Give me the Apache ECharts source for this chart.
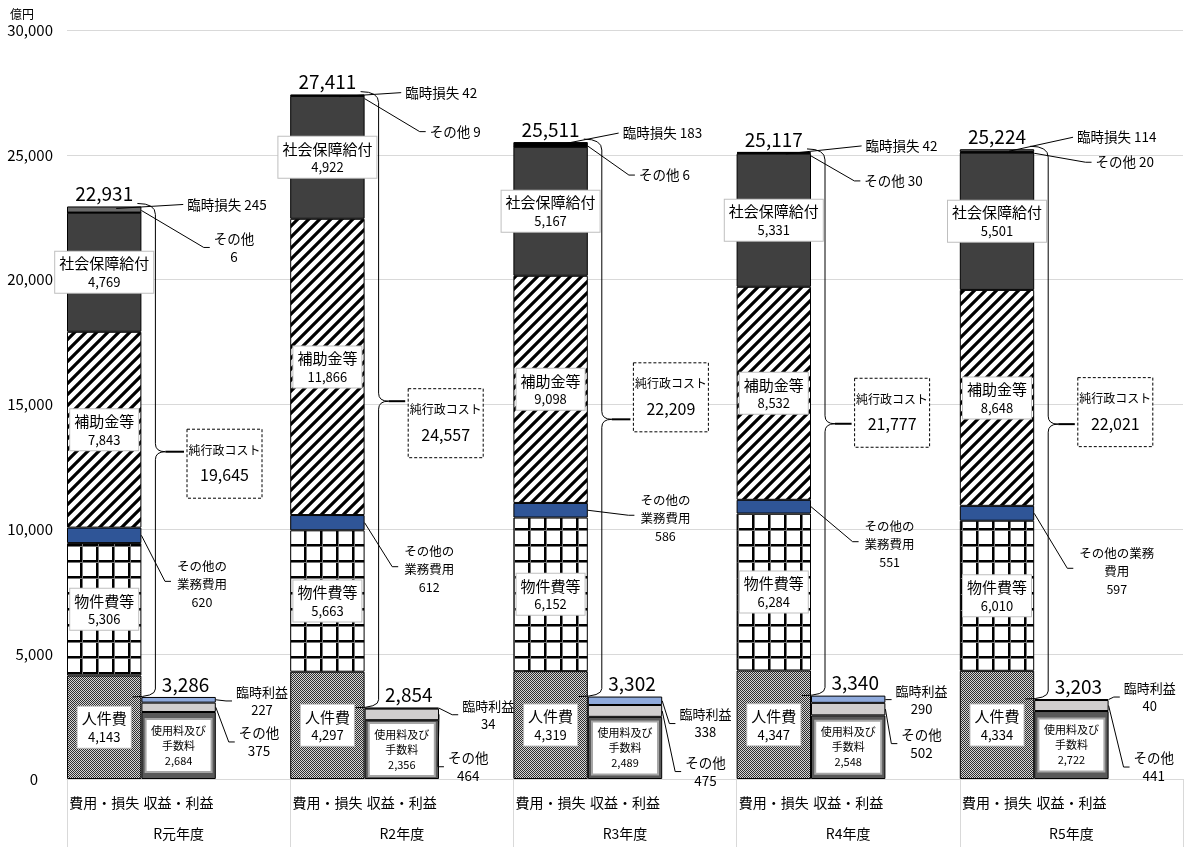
<!DOCTYPE html>
<html>
<head>
<meta charset="utf-8">
<script src="https://cdn.jsdelivr.net/npm/echarts@6/dist/echarts.min.js"></script>
<style>
html, body { margin: 0; padding: 0; background: #fff; }
#chartmain { width: 1190px; height: 847px; }
</style>
</head>
<body>
<div id="chartmain"></div>
<script>
// データ（億円）
var years = ['R元年度', 'R2年度', 'R3年度', 'R4年度', 'R5年度'];
var sides = ['費用・損失', '収益・利益', ''];
var personnel = [4143, 4297, 4319, 4347, 4334];      // 人件費
var goods = [5306, 5663, 6152, 6284, 6010];          // 物件費等
var otherBiz = [620, 612, 586, 551, 597];            // その他の業務費用
var subsidies = [7843, 11866, 9098, 8532, 8648];     // 補助金等
var social = [4769, 4922, 5167, 5331, 5501];         // 社会保障給付
var costOther = [6, 9, 6, 30, 20];                   // その他
var extraLoss = [245, 42, 183, 42, 114];             // 臨時損失
var fees = [2684, 2356, 2489, 2548, 2722];           // 使用料及び手数料
var revOther = [375, 464, 475, 502, 441];            // その他
var extraGain = [227, 34, 338, 290, 40];             // 臨時利益
var costTotal = [22931, 27411, 25511, 25117, 25224];
var revTotal = [3286, 2854, 3302, 3340, 3203];
var netCost = [19645, 24557, 22209, 21777, 22021];

// 吹き出しの置き場所（グループ左端からのx, 基準点からのy）
var lossPos = [[160, -2], [151, -2], [149, -9], [165, -6], [157, -12]];
var costOtherPos = [[167, 41], [165, 37], [151, 33], [157, 29], [165, 13]];
var otherBizPos = [[135, 49], [139, 47], [152, 8], [153, 38], [157, 58]];
var gainPos = [[195, 4], [198, 7], [192, 27], [185, 4], [190, -2]];
var revOtherPos = [[192, 45], [178, 59], [192, 75], [185, 48], [194, 68]];
var netBoxPos = [[120, 12], [118, 22], [120, -22], [118, -11], [118, -12]];
var costOtherFmt = ['その他\n{v}', 'その他 {v}', 'その他 {v}', 'その他 {v}', 'その他 {v}'];
var otherBizFmt = ['その他の\n業務費用\n{v}', 'その他の\n業務費用\n{v}', 'その他の\n業務費用\n{v}', 'その他の\n業務費用\n{v}', 'その他の業務\n費用\n{v}'];
var lossColors = ['#6b6b6b', '#000', '#000', '#000', '#595959'];

var FONT = '"Noto Sans CJK JP", sans-serif';

function fmt(v) {
    return String(v).replace(/\B(?=(\d{3})+(?!\d))/g, ',');
}
function spread(arr, slot) {
    var out = [];
    arr.forEach(function (v) {
        for (var s = 0; s < 3; s++) out.push(s === slot ? v : '-');
    });
    return out;
}
function makeCanvas(w, h, draw) {
    var c = document.createElement('canvas');
    c.width = w; c.height = h;
    draw(c.getContext('2d'), w, h);
    return c;
}

var dotPattern = makeCanvas(2, 2, function (ctx) {
    ctx.fillStyle = '#d4d4d4'; ctx.fillRect(0, 0, 2, 2);
    ctx.fillStyle = '#2e2e2e'; ctx.fillRect(0, 0, 1, 1); ctx.fillRect(1, 1, 1, 1);
});
var gridPattern = makeCanvas(16, 16, function (ctx) {
    ctx.fillStyle = '#fff'; ctx.fillRect(0, 0, 16, 16);
    ctx.fillStyle = '#000'; ctx.fillRect(0, 0, 16, 2); ctx.fillRect(0, 0, 2, 16);
    ctx.fillStyle = '#777'; ctx.fillRect(0, 2, 16, 1); ctx.fillRect(2, 0, 1, 16);
});
var stripePattern = makeCanvas(11, 11, function (ctx, w) {
    ctx.fillStyle = '#fff'; ctx.fillRect(0, 0, w, w);
    ctx.strokeStyle = '#000'; ctx.lineWidth = 3.2;
    ctx.beginPath();
    ctx.moveTo(-1, w + 1); ctx.lineTo(w + 1, -1);
    ctx.moveTo(-2, 2); ctx.lineTo(2, -2);
    ctx.moveTo(w - 2, w + 2); ctx.lineTo(w + 2, w - 2);
    ctx.stroke();
});

function innerLabel(name, values) {
    return {
        show: true,
        position: 'inside',
        backgroundColor: '#fff',
        borderColor: '#bfbfbf',
        borderWidth: 1,
        padding: [2, 4],
        color: '#000',
        fontFamily: FONT,
        formatter: function (p) {
            return '{n|' + name + '}\n{v|' + fmt(values[Math.floor(p.dataIndex / 3)]) + '}';
        },
        rich: {
            n: { fontSize: 15, lineHeight: 20, fontFamily: FONT, color: '#000' },
            v: { fontSize: 13, lineHeight: 17, fontFamily: FONT, color: '#000' }
        }
    };
}

function barSeries(name, values, slot, color, label) {
    return {
        name: name,
        type: 'bar',
        stack: 'all',
        barCategoryGap: '0%',
        data: spread(values, slot),
        itemStyle: { color: color, borderColor: '#000', borderWidth: 1 },
        label: label || { show: false },
        emphasis: { disabled: true }
    };
}

var series = [
    barSeries('人件費', personnel, 0, { image: dotPattern, repeat: 'repeat' }, innerLabel('人件費', personnel)),
    barSeries('物件費等', goods, 0, { image: gridPattern, repeat: 'repeat' }, innerLabel('物件費等', goods)),
    barSeries('その他の業務費用', otherBiz, 0, '#2f5597'),
    barSeries('補助金等', subsidies, 0, { image: stripePattern, repeat: 'repeat' }, innerLabel('補助金等', subsidies)),
    barSeries('社会保障給付', social, 0, '#404040', innerLabel('社会保障給付', social)),
    barSeries('その他', costOther, 0, '#7f7f7f'),
    barSeries('臨時損失', extraLoss, 0, function (p) { return lossColors[Math.floor(p.dataIndex / 3)]; }, {
        show: true, position: 'top', distance: 3, fontSize: 19, color: '#000', fontFamily: FONT,
        formatter: function (p) { return fmt(costTotal[Math.floor(p.dataIndex / 3)]); }
    }),
    barSeries('使用料及び手数料', fees, 1, '#595959', {
        show: true, position: 'inside', backgroundColor: '#fff', borderColor: '#a6a6a6', borderWidth: 2,
        padding: [3, 4], width: 56, align: 'center', color: '#000', fontFamily: FONT,
        formatter: function (p) {
            return '{n|使用料及び}\n{n|手数料}\n{v|' + fmt(fees[Math.floor(p.dataIndex / 3)]) + '}';
        },
        rich: {
            n: { fontSize: 11, lineHeight: 15, fontFamily: FONT, color: '#000', align: 'center' },
            v: { fontSize: 11, lineHeight: 15, fontFamily: FONT, color: '#000', align: 'center' }
        }
    }),
    barSeries('その他', revOther, 1, '#d0cece'),
    barSeries('臨時利益', extraGain, 1, '#8faadc', {
        show: true, position: 'top', distance: 3, offset: [7, 0], fontSize: 19, color: '#000', fontFamily: FONT,
        formatter: function (p) { return fmt(revTotal[Math.floor(p.dataIndex / 3)]); }
    })
];

var categories = [];
years.forEach(function () { sides.forEach(function (s) { categories.push(s); }); });

var option = {
    animation: false,
    textStyle: { fontFamily: FONT },
    grid: { left: 67, right: 7, top: 30, bottom: 68 },
    xAxis: [
        {
            type: 'category',
            data: categories,
            axisLine: { lineStyle: { color: '#d9d9d9' } },
            axisTick: { show: false },
            axisLabel: { interval: 0, margin: 17, fontSize: 14, color: '#000', fontFamily: FONT }
        },
        {
            type: 'category',
            data: years,
            position: 'bottom',
            axisLine: { show: false },
            axisTick: { show: true, length: 68, lineStyle: { color: '#d9d9d9' } },
            axisLabel: { margin: 48, fontSize: 14, color: '#000', fontFamily: FONT }
        }
    ],
    yAxis: {
        type: 'value',
        min: 0,
        max: 30000,
        interval: 5000,
        name: '億円',
        nameLocation: 'end',
        nameGap: 10,
        nameTextStyle: { fontSize: 12, color: '#000', align: 'right', padding: [0, 33, 0, 0], fontFamily: FONT },
        axisLine: { show: false },
        axisTick: { show: false },
        splitLine: { lineStyle: { color: '#d9d9d9' } },
        axisLabel: {
            margin: 14, fontSize: 15, color: '#000', fontFamily: FONT,
            formatter: function (v) { return v === 0 ? '{z|0}' : fmt(v); },
            rich: { z: { fontSize: 15, fontFamily: FONT, color: '#000', padding: [0, 15, 0, 0] } }
        }
    },
    series: series
};

var myChart = echarts.init(document.getElementById('chartmain'));
myChart.setOption(option);

// 吹き出し・中かっこ・純行政コストは軸の座標から描く
var measureCtx = document.createElement('canvas').getContext('2d');
function textWidth(text, size) {
    measureCtx.font = size + 'px ' + FONT;
    return Math.max.apply(null, text.split('\n').map(function (s) { return measureCtx.measureText(s).width; }));
}
function pt(cat, v) {
    return myChart.convertToPixel({ seriesIndex: 0 }, [cat, v]);
}
function yPix(v) { return pt(0, v)[1]; }

var els = [];
function addText(text, cx, cy, size) {
    els.push({
        type: 'text', z: 100,
        style: { text: text, x: cx, y: cy, align: 'center', verticalAlign: 'middle', fontSize: size, fontFamily: FONT, lineHeight: 18, fill: '#000' }
    });
    return cx - textWidth(text, size) / 2;
}
function addLine(points, w) {
    els.push({ type: 'polyline', z: 90, shape: { points: points }, style: { stroke: '#000', lineWidth: w || 1, fill: null } });
}
function addCurve(x1, y1, cx, cy, x2, y2) {
    els.push({ type: 'bezierCurve', z: 90, shape: { x1: x1, y1: y1, x2: x2, y2: y2, cpx1: cx, cpy1: cy }, style: { stroke: '#000', lineWidth: 1, fill: null } });
}

var band = pt(1, 0)[0] - pt(0, 0)[0];
years.forEach(function (yr, i) {
    var cc = pt(3 * i, 0)[0];
    var rc = pt(3 * i + 1, 0)[0];
    var x0 = cc - band / 2;
    var costRight = cc + band / 2;
    var revRight = rc + band / 2;
    var costSum = personnel[i] + goods[i] + otherBiz[i] + subsidies[i] + social[i] + costOther[i] + extraLoss[i];
    var revSum = fees[i] + revOther[i] + extraGain[i];
    var yTop = yPix(costSum);
    var revTop = yPix(revSum);
    var blueY = yPix(personnel[i] + goods[i] + otherBiz[i] / 2);

    // 臨時損失
    var t = '臨時損失 ' + fmt(extraLoss[i]);
    var cy = yTop + lossPos[i][1];
    var left = addText(t, x0 + lossPos[i][0], cy, 13.5);
    addLine([[cc + 12, yTop + 2], [left - 4, cy]]);

    // その他（費用）
    t = costOtherFmt[i].replace('{v}', fmt(costOther[i]));
    cy = yTop + costOtherPos[i][1];
    left = addText(t, x0 + costOtherPos[i][0], cy, 13.5);
    addLine([[costRight, yTop + 4], [left - 10, cy], [left - 4, cy]]);

    // その他の業務費用
    t = otherBizFmt[i].replace('{v}', fmt(otherBiz[i]));
    cy = blueY + otherBizPos[i][1];
    left = addText(t, x0 + otherBizPos[i][0], cy, 12.5);
    addLine([[costRight, blueY], [left - 12, cy - 3], [left - 6, cy - 3]]);

    // 臨時利益
    t = '臨時利益\n' + fmt(extraGain[i]);
    cy = revTop + gainPos[i][1];
    left = addText(t, x0 + gainPos[i][0], cy, 13);
    addLine([[revRight, yPix(fees[i] + revOther[i] + extraGain[i] / 2)], [left - 10, cy], [left - 4, cy]]);

    // その他（収益）
    t = 'その他\n' + fmt(revOther[i]);
    cy = revTop + revOtherPos[i][1];
    left = addText(t, x0 + revOtherPos[i][0], cy, 13.5);
    addLine([[revRight, yPix(fees[i] + revOther[i] / 2)], [left - 10, cy], [left - 4, cy]]);

    // 中かっこ
    var xb = costRight + 14;
    var mid = (yTop + revTop) / 2;
    var boxX = x0 + netBoxPos[i][0];
    var boxY = mid + netBoxPos[i][1] - 34.5;
    addCurve(xb - 18, yTop - 3, xb, yTop - 3, xb, yTop + 8);
    addLine([[xb, yTop + 8], [xb, mid - 8]]);
    addCurve(xb, mid - 8, xb, mid, xb + 10, mid);
    addCurve(xb + 10, mid, xb, mid, xb, mid + 8);
    addLine([[xb, mid + 8], [xb, revTop - 8]]);
    addCurve(xb, revTop - 8, xb, revTop, xb - 23, revTop);
    addLine([[xb + 10, mid], [boxX - 3, mid]], 2);

    // 純行政コスト
    els.push({
        type: 'rect', z: 95,
        shape: { x: boxX, y: boxY, width: 75, height: 69 },
        style: { fill: '#fff', stroke: '#000', lineWidth: 1, lineDash: [3, 2] }
    });
    addText('純行政コスト', boxX + 37.5, boxY + 21, 12);
    addText(fmt(netCost[i]), boxX + 37.5, boxY + 46, 16);
});

myChart.setOption({ graphic: { elements: els } });
</script>
</body>
</html>
